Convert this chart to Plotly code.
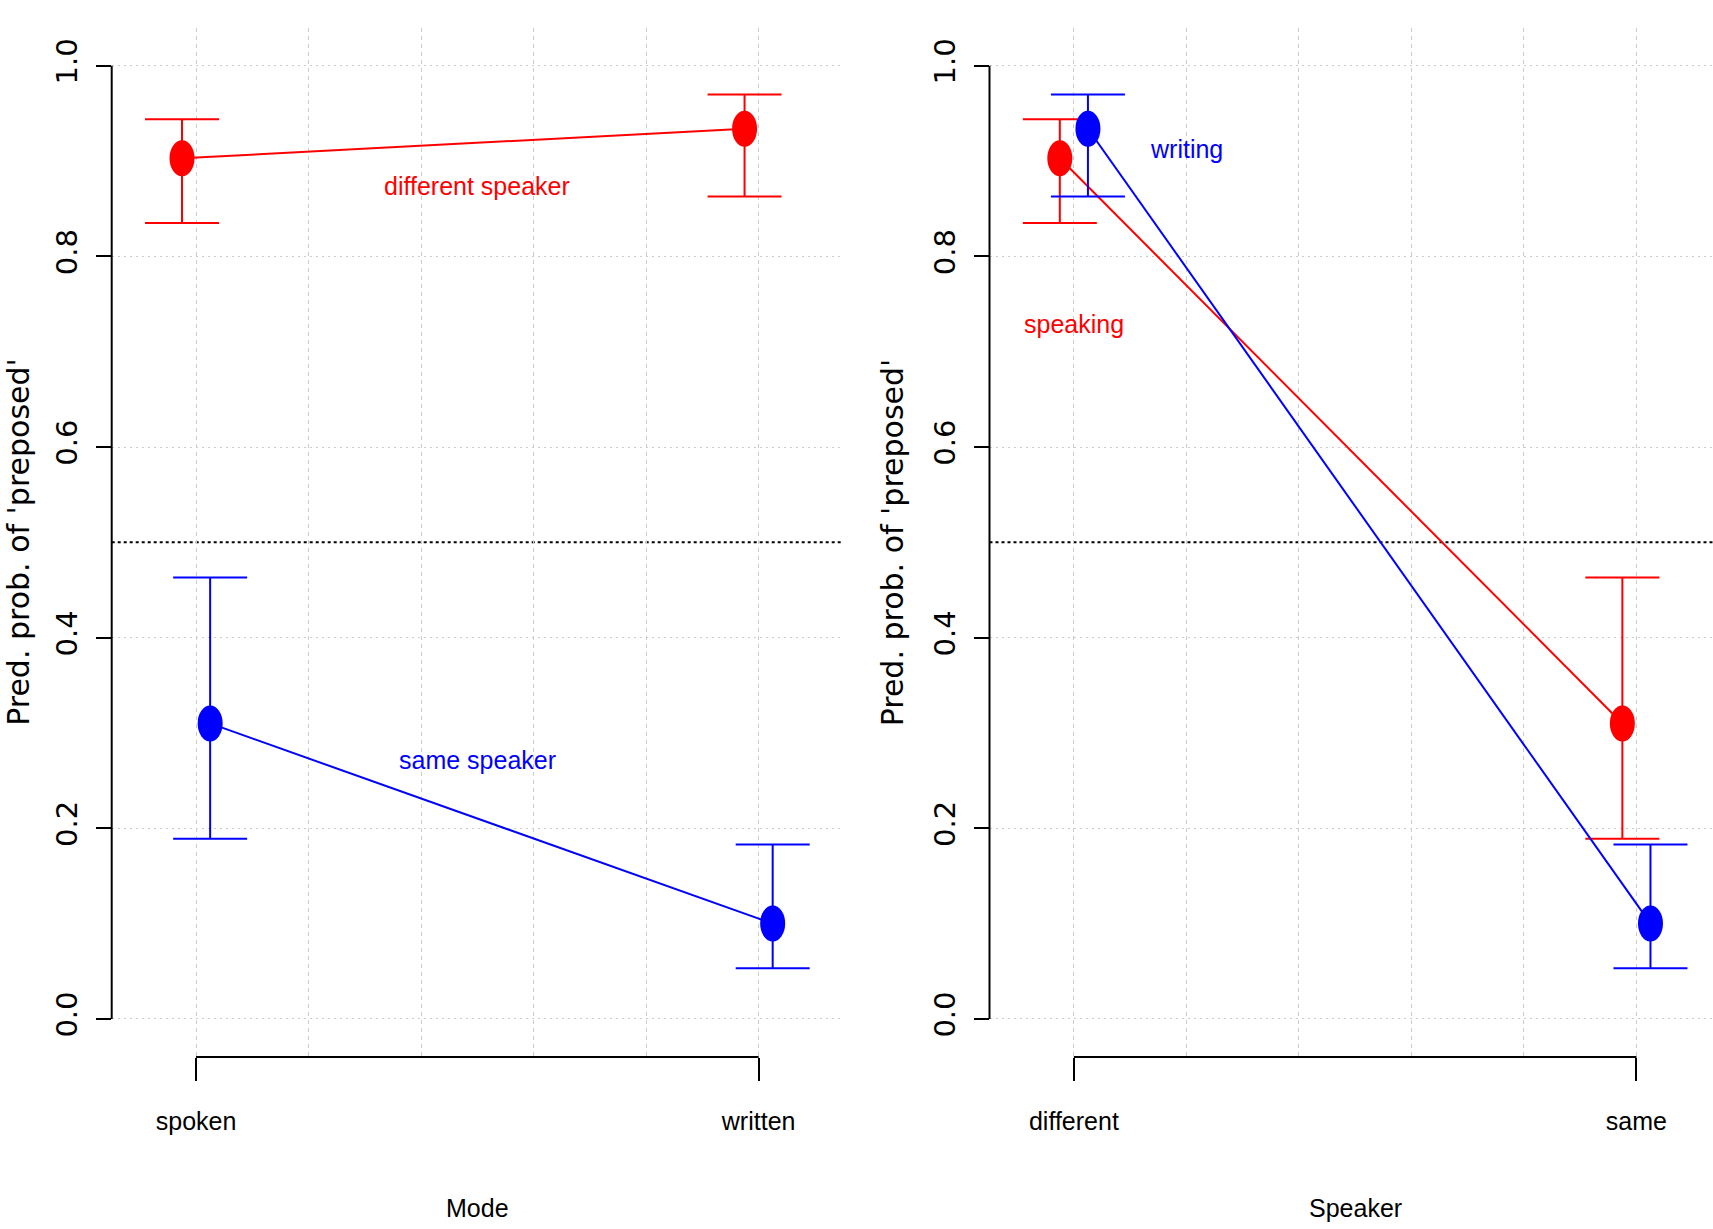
import plotly.graph_objects as go

# ---------------- data ----------------
mode_labels = ["spoken", "written"]
speaker_labels = ["different", "same"]

# left panel: by Mode, one line per Speaker
diff_fit = [0.903, 0.934]
diff_lo = [0.835, 0.863]
diff_hi = [0.944, 0.970]
same_fit = [0.310, 0.100]
same_lo = [0.189, 0.053]
same_hi = [0.463, 0.183]

# right panel: by Speaker, one line per Mode
speaking_fit = [0.903, 0.310]
speaking_lo = [0.835, 0.189]
speaking_hi = [0.944, 0.463]
writing_fit = [0.934, 0.100]
writing_lo = [0.863, 0.053]
writing_hi = [0.970, 0.183]

y_ticks = [0.0, 0.2, 0.4, 0.6, 0.8, 1.0]
y_ticktext = ["0.0", "0.2", "0.4", "0.6", "0.8", "1.0"]
x_grid_minor = [1.2, 1.4, 1.6, 1.8]

RED = "#FF0000"
BLUE = "#0000FF"
OFFSET = 0.025
NARROW = "Liberation Sans, Arial, sans-serif"
WIDE = "DejaVu Sans, Verdana, sans-serif"
W, H = 1713, 1229

fig = go.Figure()


def add_series(xref, yref, fit, lo, hi, color, off):
    xs = [i + 1 + off for i in range(len(fit))]
    fig.add_trace(go.Scatter(
        x=xs, y=fit, mode="lines", xaxis=xref, yaxis=yref,
        line=dict(color=color, width=2),
        error_y=dict(type="data", symmetric=False,
                     array=[h - f for h, f in zip(hi, fit)],
                     arrayminus=[f - l for f, l in zip(fit, lo)],
                     color=color, thickness=2, width=37),
        showlegend=False, hoverinfo="skip"))
    for xv, yv in zip(xs, fit):
        fig.add_shape(type="circle", xref=xref, yref=yref,
                      xsizemode="pixel", ysizemode="pixel",
                      xanchor=xv, yanchor=yv,
                      x0=-12.5, x1=12.5, y0=-18, y1=18,
                      fillcolor=color, line=dict(width=0), layer="above")


add_series("x", "y", diff_fit, diff_lo, diff_hi, RED, -OFFSET)
add_series("x", "y", same_fit, same_lo, same_hi, BLUE, OFFSET)
add_series("x2", "y2", speaking_fit, speaking_lo, speaking_hi, RED, -OFFSET)
add_series("x2", "y2", writing_fit, writing_lo, writing_hi, BLUE, OFFSET)

# geometry
left_l, left_r = 111.7, 843.0
right_l = 989.5
plot_top, plot_bot = 27.7, 1057.0
ydom = [(H - plot_bot) / H, (H - plot_top) / H]
xrange_left = [0.85, 2.15]
px_per_unit = (left_r - left_l) / (xrange_left[1] - xrange_left[0])
xrange_right = [0.85, 0.85 + (W - right_l) / px_per_unit]

grid_col = "#CCCCCC"
xcommon = dict(tickvals=[1, 2], ticks="outside", ticklen=23, tickwidth=2,
               tickcolor="black", showline=False, zeroline=False,
               showgrid=True, gridcolor=grid_col, gridwidth=1, griddash="4px,4px",
               minor=dict(tickvals=x_grid_minor, showgrid=True, gridcolor=grid_col,
                          gridwidth=1, griddash="4px,4px", ticks=""),
               tickfont=dict(family=NARROW, size=25, color="black"),
               ticklabelstandoff=19, fixedrange=True)
ycommon = dict(range=[-0.04, 1.04], domain=ydom, tickvals=y_ticks, ticktext=y_ticktext,
               ticks="outside", ticklen=15, tickwidth=2, tickcolor="black",
               tickangle=-90, showline=False, zeroline=False,
               showgrid=True, gridcolor=grid_col, gridwidth=1, griddash="2px,4px",
               tickfont=dict(family=WIDE, size=29, color="black"),
               ticklabelstandoff=7, fixedrange=True)

fig.update_layout(
    width=W, height=H,
    margin=dict(l=0, r=0, t=0, b=0),
    paper_bgcolor="white", plot_bgcolor="white",
    xaxis=dict(domain=[left_l / W, left_r / W], range=xrange_left,
               ticktext=mode_labels, anchor="y", **xcommon),
    yaxis=dict(anchor="x", **ycommon),
    xaxis2=dict(domain=[right_l / W, 1.0], range=xrange_right,
                ticktext=speaker_labels, anchor="y2", **xcommon),
    yaxis2=dict(anchor="x2", **ycommon),
)

# axis lines drawn in R style (only over the data span)
for xa, ya in [("x", "y"), ("x2", "y2")]:
    fig.add_shape(type="line", xref=f"{xa} domain", yref=ya, x0=0, x1=0, y0=0, y1=1,
                  line=dict(color="black", width=2))
    fig.add_shape(type="line", xref=xa, yref=f"{ya} domain", x0=1, x1=2, y0=0, y1=0,
                  line=dict(color="black", width=2))
    fig.add_shape(type="line", xref=f"{xa} domain", yref=ya, x0=0, x1=1, y0=0.5, y1=0.5,
                  line=dict(color="black", width=2, dash="dot"), layer="below")

# series labels
labels = [
    ("x", "y", 1.5, 0.8737, "different speaker", RED),
    ("x", "y", 1.5, 0.2717, "same speaker", BLUE),
    ("x2", "y2", 1.2, 0.9125, "writing", BLUE),
    ("x2", "y2", 1.0, 0.7294, "speaking", RED),
]
for xa, ya, xv, yv, txt, col in labels:
    fig.add_annotation(x=xv, y=yv, xref=xa, yref=ya, text=txt, showarrow=False,
                       xanchor="center", yanchor="middle",
                       font=dict(family=NARROW, size=25, color=col))

# axis titles
ymid = (ydom[0] + ydom[1]) / 2
for xpix, anchor in [(0.0, "left"), (892.0, "center")]:
    fig.add_annotation(x=xpix / W, y=ymid, xref="paper", yref="paper",
                       text="Pred. prob. of 'preposed'", textangle=-90, showarrow=False,
                       xanchor=anchor, yanchor="middle", borderpad=0,
                       font=dict(family=WIDE, size=30, color="black"))
for xpix, txt in [(477.0, "Mode"), (1355.0, "Speaker")]:
    fig.add_annotation(x=xpix / W, y=(H - 1208) / H, xref="paper", yref="paper",
                       text=txt, showarrow=False, xanchor="center", yanchor="middle",
                       font=dict(family=NARROW, size=25, color="black"))

fig.write_html("out.html",
               config={"displayModeBar": False},
               post_script="document.body.style.margin='0px';"
                           "document.body.style.overflow='hidden';")
